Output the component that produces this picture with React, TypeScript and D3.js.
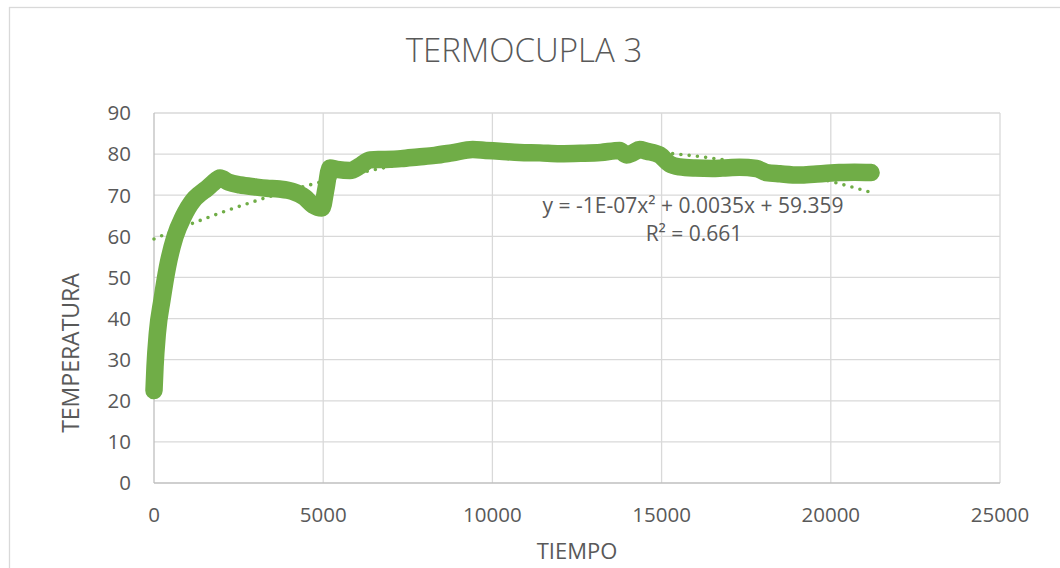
import React from "react";
import * as d3 from "d3";

// Thermocouple 3 readings: elapsed time (s) and temperature (°C)
const TIME = [
  0, 30, 100, 236, 400, 620, 866, 1160, 1350, 1555, 1750, 1950, 2200, 2540,
  3000, 3330, 3700, 4100, 4450, 4700, 4960, 5080, 5200, 5400, 5790, 6100, 6380,
  6800, 7300, 7800, 8300, 8800, 9420, 9800, 10220, 10800, 11400, 11990, 12600,
  13200, 13760, 13960, 14150, 14350, 14560, 14940, 15240, 15530, 16000, 16500,
  16800, 17300, 17800, 18100, 18500, 19070, 19500, 20000, 20250, 20700, 21190,
];
const TEMP = [
  22.5, 28.3, 36.5, 44.5, 52.6, 59.9, 64.8, 68.8, 70.3, 71.6, 73.0, 74.2,
  73.2, 72.5, 72.0, 71.7, 71.5, 70.9, 69.5, 67.6, 66.9, 71.5, 76.6, 76.3,
  76.0, 77.2, 78.6, 78.7, 78.9, 79.3, 79.7, 80.3, 81.1, 80.9, 80.7, 80.4,
  80.3, 80.1, 80.2, 80.4, 80.9, 79.8, 80.3, 81.1, 80.7, 79.8, 77.6, 76.9,
  76.6, 76.5, 76.6, 76.8, 76.5, 75.5, 75.2, 74.9, 75.1, 75.4, 75.5, 75.6, 75.5,
];

// Polynomial (order 2) trendline coefficients: a·x² + b·x + c
const TREND_A = -1.4e-7;
const TREND_B = 0.0035;
const TREND_C = 59.359;
const TREND_LABEL = "y = -1E-07x\u00B2 + 0.0035x + 59.359";
const R2_LABEL = "R\u00B2 = 0.661";

const X_TICKS = [0, 5000, 10000, 15000, 20000, 25000];
const Y_TICKS = [0, 10, 20, 30, 40, 50, 60, 70, 80, 90];

const TITLE = "TERMOCUPLA 3";
const X_TITLE = "TIEMPO";
const Y_TITLE = "TEMPERATURA";

const GREEN = "#70AD47";
const TEXT = "#595959";
const FONT = "'Open Sans', sans-serif";

export default function App() {
  const x = d3.scaleLinear().domain([0, 25000]).range([154, 1000]);
  const y = d3.scaleLinear().domain([0, 90]).range([483, 113]);

  const points: [number, number][] = TIME.map((t, i) => [t, TEMP[i]]);
  const line = d3
    .line<[number, number]>()
    .x((d) => x(d[0]))
    .y((d) => y(d[1]))
    .curve(d3.curveMonotoneX);

  const tMax = TIME[TIME.length - 1];
  const trendXs = d3.range(0, tMax + 1, 100);
  const trendPts: [number, number][] = trendXs.map((t) => [
    t,
    TREND_A * t * t + TREND_B * t + TREND_C,
  ]);
  const trendLine = d3
    .line<[number, number]>()
    .x((d) => x(d[0]))
    .y((d) => y(d[1]));

  return (
    <svg
      width={1060}
      height={568}
      style={{ position: "fixed", left: 0, top: 0, background: "#fff" }}
      fontFamily={FONT}
    >
      <rect x={0} y={0} width={1060} height={568} fill="#fff" />
      <rect
        x={9.5}
        y={7.5}
        width={1100}
        height={620}
        fill="none"
        stroke="#D9D9D9"
        strokeWidth={1.3}
      />

      <text
        x={524}
        y={62}
        textAnchor="middle"
        fontSize={33}
        fill={TEXT}
        fontWeight={300}
      >
        {TITLE}
      </text>

      {/* gridlines */}
      {Y_TICKS.filter((v) => v > 0).map((v) => (
        <line
          key={"gy" + v}
          x1={x(0)}
          x2={x(25000)}
          y1={y(v)}
          y2={y(v)}
          stroke="#D9D9D9"
          strokeWidth={1.3}
        />
      ))}
      {X_TICKS.filter((v) => v > 0).map((v) => (
        <line
          key={"gx" + v}
          x1={x(v)}
          x2={x(v)}
          y1={y(0)}
          y2={y(90)}
          stroke="#D9D9D9"
          strokeWidth={1.3}
        />
      ))}
      {/* axes */}
      <line x1={x(0)} x2={x(25000)} y1={y(0)} y2={y(0)} stroke="#BFBFBF" strokeWidth={1.3} />
      <line x1={x(0)} x2={x(0)} y1={y(0)} y2={y(90)} stroke="#BFBFBF" strokeWidth={1.3} />

      {/* tick labels */}
      {Y_TICKS.map((v) => (
        <text
          key={"ty" + v}
          x={131}
          y={y(v)}
          dy="0.36em"
          textAnchor="end"
          fontSize={20.5}
          fill={TEXT}
        >
          {v}
        </text>
      ))}
      {X_TICKS.map((v) => (
        <text
          key={"tx" + v}
          x={x(v)}
          y={522}
          textAnchor="middle"
          fontSize={20.5}
          fill={TEXT}
        >
          {v}
        </text>
      ))}

      {/* axis titles */}
      <text x={577} y={559} textAnchor="middle" fontSize={22} fill={TEXT}>
        {X_TITLE}
      </text>
      <text
        transform={`translate(79,353) rotate(-90)`}
        textAnchor="middle"
        fontSize={23}
        fill={TEXT}
      >
        {Y_TITLE}
      </text>

      {/* trendline */}
      <path
        d={trendLine(trendPts) || ""}
        fill="none"
        stroke={GREEN}
        strokeWidth={3.6}
        strokeLinecap="round"
        strokeDasharray="0 8.3"
      />

      {/* data series */}
      <path
        d={line(points) || ""}
        fill="none"
        stroke={GREEN}
        strokeWidth={17.5}
        strokeLinecap="round"
        strokeLinejoin="round"
      />

      {/* trendline equation */}
      <text x={693} y={213} textAnchor="middle" fontSize={21} fill={TEXT}>
        {TREND_LABEL}
      </text>
      <text x={694} y={241} textAnchor="middle" fontSize={21} fill={TEXT}>
        {R2_LABEL}
      </text>
    </svg>
  );
}
